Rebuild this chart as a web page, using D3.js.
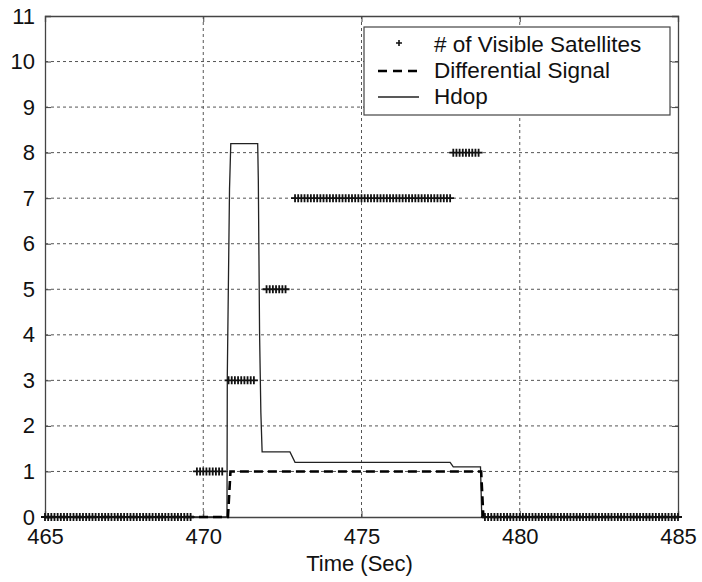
<!DOCTYPE html>
<html><head><meta charset="utf-8">
<script src="https://cdn.jsdelivr.net/npm/d3@7"></script>
<style>body{margin:0;background:#fff}svg{display:block}text{font-family:"Liberation Sans",Arial,Helvetica,sans-serif;fill:#111}</style>
</head><body><svg id="c" width="702" height="582"></svg>
<script>
// ---- data ----
const xTicks = [465, 470, 475, 480, 485];
const yTicks = [0,1,2,3,4,5,6,7,8,9,10,11];
const legendLabels = ["# of Visible Satellites", "Differential Signal", "Hdop"];
// number of visible satellites, sampled every 0.1 s starting at 465.0 s (null = no sample)
const satStart = 465.0, satStep = 0.1;
const satCount = [
 0,0,0,0,0,0,0,0,0,0, 0,0,0,0,0,0,0,0,0,0, 0,0,0,0,0,0,0,0,0,0, 0,0,0,0,0,0,0,0,0,0, 0,0,0,0,0,0,0,
 null,
 1,1,1,1,1,1,1,1,1,
 null,
 3,3,3,3,3,3,3,3,3,
 null,null,null,
 5,5,5,5,5,5,5,
 null,null,
 7,7,7,7,7,7,7,7,7,7, 7,7,7,7,7,7,7,7,7,7, 7,7,7,7,7,7,7,7,7,7, 7,7,7,7,7,7,7,7,7,7, 7,7,7,7,7,7,7,7,7,7,
 8,8,8,8,8,8,8,8,8,
 null,
 0,0,0,0,0,0,0,0,0,0, 0,0,0,0,0,0,0,0,0,0, 0,0,0,0,0,0,0,0,0,0, 0,0,0,0,0,0,0,0,0,0, 0,0,0,0,0,0,0,0,0,0, 0,0,0,0,0,0,0,0,0,0, 0,0
];
const diffTime  = [465, 470.78, 470.86, 478.78, 478.85, 485];
const diffValue = [0,   0,      1,      1,      0,      0];
const hdopTime  = [465, 470.75, 470.76, 470.83, 470.87, 471.72, 471.74, 471.78, 471.82, 471.86, 472.74, 472.9, 477.8, 477.9, 478.76, 478.8, 485];
const hdopValue = [0,   0,      3.1,    7.2,    8.2,    8.2,    7.4,    4.0,    2.3,    1.43,   1.43,   1.2,   1.2,   1.1,   1.1,    0,     0];

// ---- layout ----
const svg = d3.select("#c");
const L = 45, R = 678, T = 16, B = 517;
const x = d3.scaleLinear().domain([465, 485]).range([L, R]);
const y = d3.scaleLinear().domain([0, 11]).range([B, T]);

// grid
const g = svg.append("g");
g.selectAll(".gx").data(xTicks.slice(1, -1)).join("line")
  .attr("x1", d => x(d)).attr("x2", d => x(d)).attr("y1", T).attr("y2", B)
  .attr("stroke", "#555").attr("stroke-width", 1).attr("stroke-dasharray", "3,3");
g.selectAll(".gy").data(yTicks.slice(1, -1)).join("line")
  .attr("y1", d => y(d)).attr("y2", d => y(d)).attr("x1", L).attr("x2", R)
  .attr("stroke", "#555").attr("stroke-width", 1).attr("stroke-dasharray", "3,3");

// axes
const ax = d3.axisBottom(x).tickValues(xTicks).tickSize(-6).tickPadding(11).tickFormat(d3.format("d"));
const ay = d3.axisLeft(y).tickValues(yTicks).tickSize(-6).tickPadding(10).tickFormat(d3.format("d"));
const gx = svg.append("g").attr("transform", `translate(0,${B})`).call(ax);
const gy = svg.append("g").attr("transform", `translate(${L},0)`).call(ay);
const gx2 = svg.append("g").attr("transform", `translate(0,${T})`).call(d3.axisTop(x).tickValues(xTicks).tickSize(-6).tickFormat(""));
const gy2 = svg.append("g").attr("transform", `translate(${R},0)`).call(d3.axisRight(y).tickValues(yTicks).tickSize(-6).tickFormat(""));
[gx, gy, gx2, gy2].forEach(a => {
  a.select(".domain").attr("stroke", "#444").attr("stroke-width", 1.3);
  a.selectAll(".tick line").attr("stroke", "#444");
  a.selectAll("text").style("font-size", "22px").attr("fill", "#111");
});
gx.selectAll(".tick text").attr("dy", "0.71em");

svg.append("text").attr("x", (L + R) / 2 - 2).attr("y", 571).attr("text-anchor", "middle")
  .style("font-size", "22px").text("Time (Sec)");

// lines
const line = d3.line().x(d => x(d[0])).y(d => y(d[1]));
svg.append("path").datum(hdopTime.map((t, i) => [t, hdopValue[i]]))
  .attr("d", line).attr("fill", "none").attr("stroke", "#222").attr("stroke-width", 1.3);
svg.append("path").datum(diffTime.map((t, i) => [t, diffValue[i]]))
  .attr("d", line).attr("fill", "none").attr("stroke", "#000").attr("stroke-width", 2.6).attr("stroke-dasharray", "9,5");

// satellites markers
const sat = satCount.map((v, i) => ({t: satStart + i * satStep, v})).filter(d => d.v !== null);
const plus = (cx, cy, s) => `M${cx - s},${cy}H${cx + s}M${cx},${cy - s}V${cy + s}`;
svg.append("path")
  .attr("d", sat.map(d => plus(x(d.t), y(d.v), 4)).join(""))
  .attr("stroke", "#111").attr("stroke-width", 1.8).attr("fill", "none");

// legend
const lg = svg.append("g");
lg.append("rect").attr("x", 364).attr("y", 27).attr("width", 306).attr("height", 88)
  .attr("fill", "#fff").attr("stroke", "#444").attr("stroke-width", 1.2);
const rows = [45, 71, 97];
lg.append("path").attr("d", plus(399, rows[0] - 2, 3)).attr("stroke", "#111").attr("stroke-width", 1.6);
lg.append("line").attr("x1", 378).attr("x2", 419).attr("y1", rows[1]).attr("y2", rows[1])
  .attr("stroke", "#000").attr("stroke-width", 2.6).attr("stroke-dasharray", "9,6");
lg.append("line").attr("x1", 378).attr("x2", 419).attr("y1", rows[2]).attr("y2", rows[2])
  .attr("stroke", "#222").attr("stroke-width", 1.3);
lg.selectAll(".lt").data(legendLabels).join("text")
  .attr("x", 434).attr("y", (d, i) => rows[i] + 7)
  .style("font-size", "22.5px").text(d => d);
</script></body></html>
